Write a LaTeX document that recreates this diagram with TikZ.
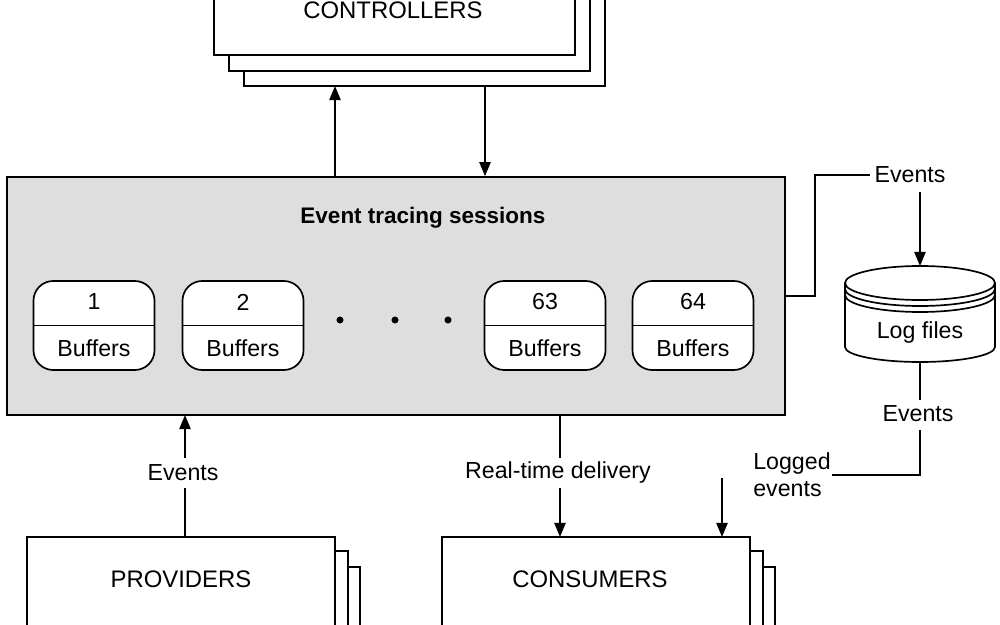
\documentclass[tikz,border=0pt]{standalone}
\usepackage{fontspec}
\setmainfont{Liberation Sans}
\usetikzlibrary{arrows.meta,shapes.geometric}
\begin{document}
\begin{tikzpicture}[x=0.25mm,y=-0.25mm,
  box/.style={draw,line width=1.2pt,fill=white},
  arr/.style={line width=1.2pt,-{Triangle[length=10pt,width=8pt]}},
  ln/.style={line width=1.2pt},
  lbl/.style={font=\fontsize{16.5}{19}\selectfont},
  big/.style={font=\fontsize{17}{19}\selectfont}]
\useasboundingbox (0,0) rectangle (1000,625);
\clip (0,0) rectangle (1000,625);
% controllers
\draw[box] (244,-20) rectangle (605,86);
\draw[box] (229,-20) rectangle (590,71);
\draw[box] (214,-20) rectangle (575,55);
\node[big] (ctrl) at (393,10) {CONTROLLERS};
\coordinate (cb1) at (335,86); \coordinate (cb2) at (485,86);
% main box
\node[draw,line width=1.2pt,fill=black!13,minimum width=778*0.25mm,minimum height=238*0.25mm,inner sep=0] (main) at (396,296) {};
\node[font=\bfseries\fontsize{16}{18}\selectfont] (title) at (423,218) {Event tracing sessions};
\draw[arr] (main.north-|cb1) -- (cb1);
\draw[arr] (cb2) -- (main.north-|cb2);
% sessions
\foreach \n/\x/\t in {s1/94/1,s2/243/2,s63/545/63,s64/693/64}{
  \node[draw,line width=1.2pt,fill=white,rounded corners=14pt,minimum width=121*0.25mm,minimum height=89*0.25mm] (\n) at (\x,325.5) {};
  \draw[ln] (\n.west) -- (\n.east);
  \node[lbl] at (\x,302) {\t};
  \node[lbl] at (\x,348) {Buffers};
}
\foreach \x in {340,395,448}{\fill (\x,320) circle (2.5pt);}
% log files (cylinder)
\coordinate (logtop) at (920,266);
\coordinate (logbot) at (920,362);
\draw[ln,fill=white] (845,283) arc[start angle=180,end angle=360,x radius=75,y radius=17] -- (995,347) arc[start angle=0,end angle=180,x radius=75,y radius=15] -- cycle;
\foreach \y in {283,289,295}
  \draw[ln] (845,\y) arc[start angle=180,end angle=0,x radius=75,y radius=17];
\node[lbl] (logl) at (920,333) {Log files};
\node[lbl] (ev1) at (910,175) {Events};
\draw[ln] (main.east|-0,296) -- (815,296) -- (815,175) -- (ev1.west);
\draw[arr] (920,192) -- (logtop);
\node[lbl] (ev2) at (918,414) {Events};
\draw[ln] (logbot) -- (920,400);
% providers
\draw[box] (52,567) rectangle (360,700);
\draw[box] (40,551) rectangle (348,700);
\draw[box] (27,537) rectangle (335,700);
\node[big] (prov) at (181,579) {PROVIDERS};
\node[lbl] (ev3) at (183,473) {Events};
\draw[ln] (185,537) -- (185,488);
\draw[arr] (185,458) -- (185,415);
% consumers
\draw[box] (467,567) rectangle (775,700);
\draw[box] (455,551) rectangle (763,700);
\draw[box] (442,537) rectangle (750,700);
\node[big] (cons) at (590,579) {CONSUMERS};
\node[lbl] (rt) at (558,473) {Real-time delivery};
\draw[ln] (560,415) -- (560,458);
\draw[arr] (560,488) -- (560,537);
\node[lbl,align=left,inner sep=1pt] (lg) at (792,475) {Logged\\events};
\draw[ln] (920,430) -- (920,475) -- (lg.east|-0,475);
\draw[arr] (722,478) -- (722,537);
\end{tikzpicture}
\end{document}
